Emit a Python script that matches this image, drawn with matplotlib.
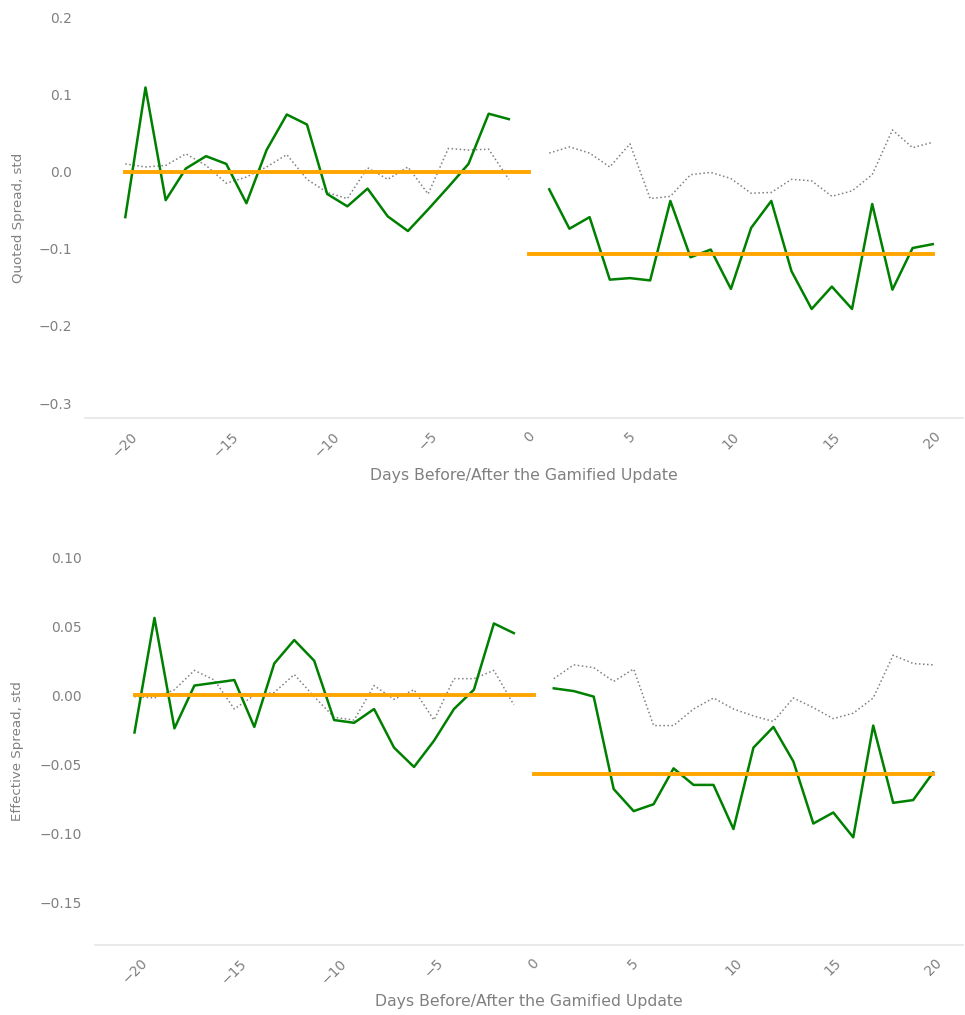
import numpy as np
import matplotlib
matplotlib.use("Agg")
import matplotlib.pyplot as plt

plt.rcParams['font.family'] = ['DejaVu Sans']

days_pre = list(range(-20, 0))
days_post = list(range(1, 21))

# quoted spread
qs_pre = [-0.059, 0.109, -0.037, 0.004, 0.020, 0.010, -0.041, 0.028, 0.074, 0.061,
          -0.029, -0.045, -0.022, -0.058, -0.077, -0.049, -0.020, 0.010, 0.075, 0.068]
qs_pre_ctrl = [0.010, 0.006, 0.008, 0.023, 0.008, -0.015, -0.007, 0.006, 0.022, -0.010,
               -0.027, -0.035, 0.005, -0.010, 0.006, -0.029, 0.030, 0.028, 0.029, -0.010]
qs_post = [-0.023, -0.074, -0.059, -0.140, -0.138, -0.141, -0.038, -0.111, -0.101, -0.152,
           -0.073, -0.038, -0.129, -0.178, -0.149, -0.178, -0.042, -0.153, -0.099, -0.094]
qs_post_ctrl = [0.024, 0.032, 0.024, 0.006, 0.036, -0.035, -0.032, -0.004, -0.001, -0.009,
                -0.028, -0.027, -0.010, -0.012, -0.032, -0.025, -0.004, 0.054, 0.031, 0.038]
qs_mean_pre = 0.0
qs_mean_post = -0.107

# effective spread
es_pre = [-0.027, 0.056, -0.024, 0.007, 0.009, 0.011, -0.023, 0.023, 0.040, 0.025,
          -0.018, -0.020, -0.010, -0.038, -0.052, -0.033, -0.010, 0.004, 0.052, 0.045]
es_pre_ctrl = [-0.001, -0.002, 0.004, 0.018, 0.011, -0.010, 0.000, 0.002, 0.015, -0.001,
               -0.016, -0.018, 0.007, -0.003, 0.004, -0.018, 0.012, 0.012, 0.018, -0.007]
es_post = [0.005, 0.003, -0.001, -0.068, -0.084, -0.079, -0.053, -0.065, -0.065, -0.097,
           -0.038, -0.023, -0.048, -0.093, -0.085, -0.103, -0.022, -0.078, -0.076, -0.056]
es_post_ctrl = [0.012, 0.022, 0.020, 0.010, 0.019, -0.022, -0.022, -0.010, -0.002, -0.010,
                -0.015, -0.019, -0.002, -0.009, -0.017, -0.013, -0.002, 0.029, 0.023, 0.022]
es_mean_pre = 0.0
es_mean_post = -0.057

txt = '#808080'

fig = plt.figure(figsize=(9.65, 10.15), dpi=100)
ax1 = fig.add_axes([0.088, 0.588, 0.91, 0.395])
ax2 = fig.add_axes([0.098, 0.069, 0.90, 0.382])


def draw(ax, pre, pre_c, post, post_c, m_pre, m_post, ylabel, ylim, yticks, fmt, lab_x):
    ax.plot(days_pre, pre_c, ':', color='gray', lw=1.1)
    ax.plot(days_post, post_c, ':', color='gray', lw=1.1)
    ax.plot(days_pre, pre, color='green', lw=1.8)
    ax.plot(days_post, post, color='green', lw=1.8)
    ax.plot([-20, 0], [m_pre, m_pre], color='orange', lw=2.8)
    ax.plot([0, 20], [m_post, m_post], color='orange', lw=2.8)
    ax.set_xlim(-22, 21.5)
    ax.set_ylim(*ylim)
    ax.set_xticks(range(-20, 21, 5))
    ax.set_yticks(yticks)
    ax.set_yticklabels([fmt.format(v).replace('-', '\u2212') for v in yticks])
    ax.tick_params(axis='both', length=0, colors=txt, labelsize=10)
    ax.tick_params(axis='x', rotation=45, pad=8)
    ax.tick_params(axis='y', pad=9)
    for s in ['top', 'right', 'left']:
        ax.spines[s].set_visible(False)
    ax.spines['bottom'].set_color('#e5e5e5')
    ax.spines['bottom'].set_linewidth(1.2)
    ax.set_xlabel('Days Before/After the Gamified Update', color=txt, fontsize=11.3, labelpad=5.5)
    ax.set_ylabel(ylabel, color=txt, fontsize=9.6)
    ax.yaxis.set_label_coords(lab_x, 0.5)


draw(ax1, qs_pre, qs_pre_ctrl, qs_post, qs_post_ctrl, qs_mean_pre, qs_mean_post,
     'Quoted Spread, std', (-0.3195, 0.2), [-0.3, -0.2, -0.1, 0.0, 0.1, 0.2], '{:.1f}', -0.068)
draw(ax2, es_pre, es_pre_ctrl, es_post, es_post_ctrl, es_mean_pre, es_mean_post,
     'Effective Spread, std', (-0.181, 0.1), [-0.15, -0.10, -0.05, 0.00, 0.05, 0.10], '{:.2f}', -0.081)

fig.savefig('out.png', dpi=100)
